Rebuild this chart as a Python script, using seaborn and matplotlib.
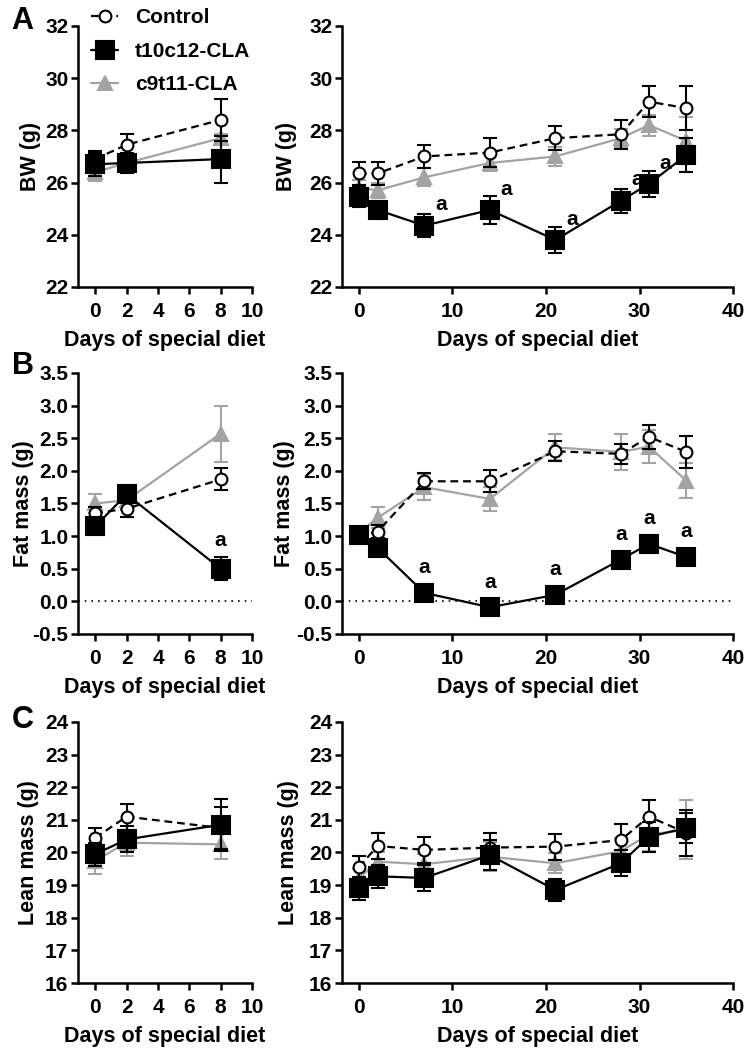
import matplotlib
matplotlib.use("Agg")
import matplotlib.pyplot as plt
import numpy as np
import seaborn as sns

# Days of measurement
days_short = [0, 2, 8]
days_long = [0, 2, 7, 14, 21, 28, 31, 35]

# Body weight (g), mean and SEM
bw_short_ctrl = [26.9, 27.45, 28.4]
bw_short_ctrl_err = [0.3, 0.4, 0.8]
bw_short_t10 = [26.7, 26.75, 26.9]
bw_short_t10_err = [0.45, 0.4, 0.9]
bw_short_c9 = [26.4, 26.75, 27.7]
bw_short_c9_err = [0.35, 0.3, 0.15]

bw_long_ctrl = [26.35, 26.35, 27.0, 27.15, 27.7, 27.85, 29.1, 28.85]
bw_long_ctrl_err = [0.45, 0.45, 0.45, 0.55, 0.45, 0.55, 0.6, 0.85]
bw_long_t10 = [25.45, 24.95, 24.35, 24.95, 23.8, 25.3, 25.95, 27.05]
bw_long_t10_err = [0.4, 0.35, 0.45, 0.55, 0.5, 0.45, 0.5, 0.65]
bw_long_c9 = [25.8, 25.7, 26.2, 26.75, 27.0, 27.7, 28.2, 27.6]
bw_long_c9_err = [0.3, 0.3, 0.35, 0.3, 0.35, 0.35, 0.4, 0.9]

# Fat mass (g)
fat_short_ctrl = [1.35, 1.42, 1.87]
fat_short_ctrl_err = [0.1, 0.12, 0.17]
fat_short_t10 = [1.15, 1.64, 0.5]
fat_short_t10_err = [0.1, 0.1, 0.18]
fat_short_c9 = [1.5, 1.55, 2.57]
fat_short_c9_err = [0.15, 0.1, 0.43]

fat_long_ctrl = [1.0, 1.07, 1.84, 1.84, 2.3, 2.26, 2.52, 2.29]
fat_long_ctrl_err = [0.08, 0.1, 0.12, 0.17, 0.15, 0.15, 0.18, 0.25]
fat_long_t10 = [1.02, 0.82, 0.13, -0.09, 0.1, 0.64, 0.88, 0.68]
fat_long_t10_err = [0.06, 0.05, 0.04, 0.04, 0.04, 0.05, 0.05, 0.05]
fat_long_c9 = [1.05, 1.28, 1.75, 1.57, 2.36, 2.29, 2.37, 1.85]
fat_long_c9_err = [0.08, 0.16, 0.2, 0.18, 0.2, 0.28, 0.25, 0.27]

# Lean mass (g)
lean_short_ctrl = [20.45, 21.1, 20.75]
lean_short_ctrl_err = [0.3, 0.4, 0.65]
lean_short_t10 = [19.95, 20.4, 20.85]
lean_short_t10_err = [0.35, 0.4, 0.8]
lean_short_c9 = [19.75, 20.3, 20.25]
lean_short_c9_err = [0.4, 0.4, 0.45]

lean_long_ctrl = [19.55, 20.2, 20.08, 20.15, 20.18, 20.38, 21.1, 20.6]
lean_long_ctrl_err = [0.35, 0.4, 0.4, 0.45, 0.4, 0.5, 0.5, 0.7]
lean_long_t10 = [18.9, 19.27, 19.22, 19.92, 18.85, 19.67, 20.48, 20.75]
lean_long_t10_err = [0.35, 0.35, 0.4, 0.45, 0.35, 0.4, 0.45, 0.45]
lean_long_c9 = [19.2, 19.72, 19.64, 19.87, 19.67, 20.04, 20.55, 20.7]
lean_long_c9_err = [0.3, 0.3, 0.3, 0.45, 0.3, 0.4, 0.5, 0.9]

# Days flagged "a" (t10c12 vs control)
sig_bw_long = [7, 14, 21, 28, 31]
sig_fat_short = [8]
sig_fat_long = [7, 14, 21, 28, 31, 35]

group_names = ["Control", "t10c12-CLA", "c9t11-CLA"]

GRAY = "#a3a3a3"

sns.set_style("ticks")
plt.rcParams["font.family"] = ["Liberation Sans", "DejaVu Sans"]
plt.rcParams["font.weight"] = "bold"
plt.rcParams["axes.labelweight"] = "bold"
plt.rcParams["axes.linewidth"] = 1.8
plt.rcParams["xtick.major.width"] = 1.8
plt.rcParams["ytick.major.width"] = 1.8
plt.rcParams["xtick.major.size"] = 5
plt.rcParams["ytick.major.size"] = 5
plt.rcParams["xtick.color"] = "black"
plt.rcParams["ytick.color"] = "black"
plt.rcParams["text.color"] = "black"
plt.rcParams["axes.labelcolor"] = "black"
plt.rcParams["axes.edgecolor"] = "black"
plt.rcParams["font.size"] = 15

styles = {
    "Control": dict(color="black", marker="o", linestyle=(0, (3.5, 2.2)), markersize=8.5,
                    markerfacecolor="white", markeredgecolor="black", z=3),
    "t10c12-CLA": dict(color="black", marker="s", linestyle="-", markersize=13,
                       markerfacecolor="black", markeredgecolor="black", z=4),
    "c9t11-CLA": dict(color=GRAY, marker="^", linestyle="-", markersize=10,
                      markerfacecolor=GRAY, markeredgecolor=GRAY, z=2),
}


def draw_series(ax, days, mean, err, name):
    st = styles[name]
    ax.errorbar(days, mean, yerr=err, fmt="none", ecolor=st["color"], elinewidth=1.5,
                capsize=5, capthick=1.5, zorder=st["z"])
    sns.lineplot(x=days, y=mean, ax=ax, color=st["color"], marker=st["marker"],
                 linestyle=st["linestyle"], linewidth=1.6, markersize=st["markersize"],
                 markerfacecolor=st["markerfacecolor"], markeredgecolor=st["markeredgecolor"],
                 markeredgewidth=1.5, errorbar=None, zorder=st["z"] + 0.5, label=name)


def style_axes(ax, xlim, xticks, ylim, yticks, ylabel, yfmt, ylab_x):
    ax.set_xlim(*xlim)
    ax.set_ylim(*ylim)
    ax.set_xticks(xticks)
    ax.set_yticks(yticks)
    if yfmt:
        ax.set_yticklabels([yfmt.format(t) for t in yticks])
    ax.set_xlabel("Days of special diet", fontsize=15.5, fontweight="bold", labelpad=6)
    ax.set_ylabel(ylabel, fontsize=15.5, fontweight="bold")
    ax.tick_params(axis="x", labelsize=15, pad=6)
    ax.tick_params(axis="y", labelsize=15, pad=2)
    for lab in ax.get_xticklabels() + ax.get_yticklabels():
        lab.set_fontweight("bold")
    sns.despine(ax=ax)
    ax.spines["left"].set_bounds(ylim[0], ylim[1])
    ax.spines["bottom"].set_bounds(xlim[0], xlim[1])
    # right edge of the y label in figure pixels -> axes fraction
    bbox = ax.get_position()
    x0 = bbox.x0 * 755
    w = bbox.width * 755
    ax.yaxis.set_label_coords((ylab_x - x0) / w, 0.5)
    if ax.get_legend() is not None:
        ax.get_legend().remove()


def mark_sig(ax, days, mean, sig_days, offset):
    for d in sig_days:
        i = list(days).index(d)
        ax.annotate("a", (d, mean[i]), xytext=offset, textcoords="offset points",
                    ha="center", va="center", fontsize=15, fontweight="bold", zorder=6)


fig = plt.figure(figsize=(7.55, 10.5), dpi=100)

rows = [0.7267, 0.3962, 0.0638]
h = 0.2486
left_pos = (0.1033, 0.2305)
right_pos = (0.453, 0.518)

panels = [
    (days_short, days_long,
     [(bw_short_ctrl, bw_short_ctrl_err), (bw_short_t10, bw_short_t10_err), (bw_short_c9, bw_short_c9_err)],
     [(bw_long_ctrl, bw_long_ctrl_err), (bw_long_t10, bw_long_t10_err), (bw_long_c9, bw_long_c9_err)],
     (22, 32), np.arange(22, 33, 2), "BW (g)", None, (41, 297)),
    (days_short, days_long,
     [(fat_short_ctrl, fat_short_ctrl_err), (fat_short_t10, fat_short_t10_err), (fat_short_c9, fat_short_c9_err)],
     [(fat_long_ctrl, fat_long_ctrl_err), (fat_long_t10, fat_long_t10_err), (fat_long_c9, fat_long_c9_err)],
     (-0.5, 3.5), np.arange(-0.5, 3.51, 0.5), "Fat mass (g)", "{:.1f}", (34, 295)),
    (days_short, days_long,
     [(lean_short_ctrl, lean_short_ctrl_err), (lean_short_t10, lean_short_t10_err), (lean_short_c9, lean_short_c9_err)],
     [(lean_long_ctrl, lean_long_ctrl_err), (lean_long_t10, lean_long_t10_err), (lean_long_c9, lean_long_c9_err)],
     (16, 24), np.arange(16, 25, 1), "Lean mass (g)", None, (39, 299)),
]

axes = []
for r, (ds, dl, short_data, long_data, ylim, yticks, ylabel, yfmt, labx) in enumerate(panels):
    ax_l = fig.add_axes([left_pos[0], rows[r], left_pos[1], h])
    ax_r = fig.add_axes([right_pos[0], rows[r], right_pos[1], h])
    for ax, dd, data in ((ax_l, ds, short_data), (ax_r, dl, long_data)):
        if r == 1:
            ax.axhline(0, color="black", linestyle=(0, (1, 3)), linewidth=1.2, zorder=1)
        # draw c9t11 first, then control, then t10c12 on top
        for k in (2, 0, 1):
            draw_series(ax, dd, data[k][0], data[k][1], group_names[k])
    style_axes(ax_l, (-1.1, 10), np.arange(0, 11, 2), ylim, yticks, ylabel, yfmt, labx[0])
    style_axes(ax_r, (-1.8, 40), np.arange(0, 41, 10), ylim, yticks, ylabel, yfmt, labx[1])
    axes.append((ax_l, ax_r))

# significance marks
mark_sig(axes[0][1], days_long, bw_long_t10, sig_bw_long, (12, 15))
mark_sig(axes[1][0], days_short, fat_short_t10, sig_fat_short, (0, 20))
mark_sig(axes[1][1], days_long, fat_long_t10, sig_fat_long, (0, 18))

# legend in panel A
ax0 = axes[0][0]
handles, labels = ax0.get_legend_handles_labels()
order = [labels.index(n) for n in group_names]
ax0.legend([handles[i] for i in order], [labels[i] for i in order],
           loc="upper left", bbox_to_anchor=(0.11, 1.0), bbox_transform=fig.transFigure,
           frameon=False, fontsize=15, handlelength=1.3, handletextpad=0.8,
           labelspacing=0.7, borderaxespad=0)

for letter, y in (("A", 0.980), ("B", 0.651), ("C", 0.314)):
    fig.text(0.030, y, letter, fontsize=22, fontweight="bold", ha="center", va="center")

fig.savefig("out.png", dpi=100)
